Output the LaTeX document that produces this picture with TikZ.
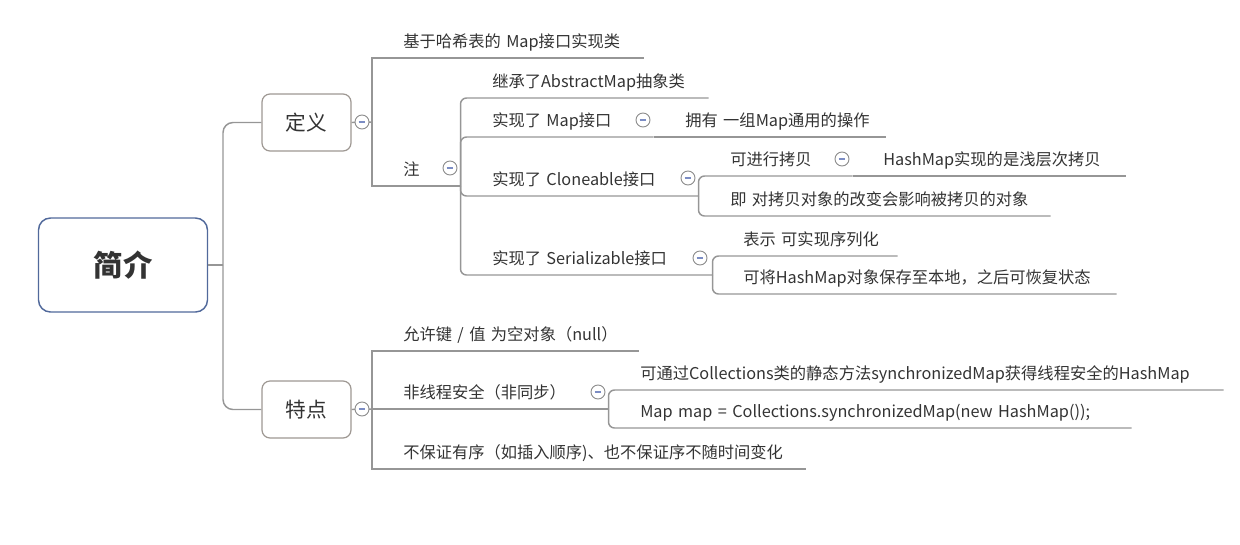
\documentclass[tikz,border=0pt]{standalone}
\usepackage{fontspec}
\setmainfont[WordSpace=0.6]{Noto Sans CJK SC}
\definecolor{ink}{HTML}{333333}
\definecolor{rootblue}{HTML}{51699B}
\definecolor{hubgray}{HTML}{9E9893}
\definecolor{linegray}{HTML}{969696}
\definecolor{foldgray}{HTML}{8C8C8C}
\definecolor{foldblue}{HTML}{7C8DC4}
\begin{document}
\begin{tikzpicture}[
    x=0.75pt, y=-0.75pt,
    root/.style={rectangle, draw=rootblue, line width=1.1pt, rounded corners=9pt, fill=white, minimum width=126.75pt, minimum height=70.5pt, text=ink, font=\fontsize{22pt}{26pt}\selectfont\bfseries},
    hub/.style={rectangle, draw=hubgray, line width=0.9pt, rounded corners=6pt, fill=white, minimum width=66.75pt, minimum height=42.75pt, text=ink, font=\fontsize{15.5pt}{18pt}\selectfont},
    topic/.style={anchor=south west, inner sep=0pt, text height=11pt, text depth=7.7pt, align=left, text=ink, font=\fontsize{12.2pt}{14pt}\selectfont},
    fold/.style={circle, draw=foldgray, fill=white, line width=0.7pt, minimum size=10.5pt, inner sep=0pt,
        path picture={\draw[foldblue, line width=1.1pt] ([xshift=-2.6pt]path picture bounding box.center) -- ([xshift=2.6pt]path picture bounding box.center);}},
    link/.style={draw=linegray, line width=1.1pt},
    elbow/.style={link, rounded corners=4.5pt}
]
\useasboundingbox (0,0) rectangle (1240,544);

% Root and main branches
\node[root] (intro) at (123,265) {简介};
\node[hub] (def) at (306.5,122.5) {定义};
\node[hub] (feat) at (306.5,409.5) {特点};
\coordinate (rootfork) at (223,265);
\coordinate (deffork) at (372,122);
\coordinate (featfork) at (372,409);

% Definition
\node[topic, text width=180pt] (base) at (403,58) {基于哈希表的 Map接口实现类};
\node[topic, text width=42.75pt] (note) at (403,186) {注};
\node[topic, text width=162pt] (inherit) at (492,98) {继承了AbstractMap抽象类};
\node[topic, text width=120.75pt] (mapif) at (492,137) {实现了 Map接口};
\node[topic, text width=150pt] (ops) at (685,137) {拥有 一组Map通用的操作};
\node[topic, text width=154.5pt] (clone) at (492,196) {实现了 Cloneable接口};
\node[topic, text width=91.5pt] (copy) at (730,176) {可进行拷贝};
\node[topic, text width=181.5pt] (shallow) at (883,176) {HashMap实现的是浅层次拷贝};
\node[topic, text width=240pt] (effect) at (730,216) {即 对拷贝对象的改变会影响被拷贝的对象};
\node[topic, text width=165pt] (serial) at (492,275) {实现了 Serializable接口};
\node[topic, text width=115.5pt] (meaning) at (743,256) {表示 可实现序列化};
\node[topic, text width=279.75pt] (store) at (743,294) {可将HashMap对象保存至本地，之后可恢复状态};

% Features
\node[topic, text width=176.25pt] (nullkey) at (403,351) {允许键 / 值 为空对象（null）};
\node[topic, text width=153.75pt] (unsafe) at (403,409) {非线程安全（非同步）};
\node[topic, text width=437.25pt] (sync) at (640,390) {可通过Collections类的静态方法synchronizedMap获得线程安全的HashMap};
\node[topic, text width=368.25pt] (code) at (640,428) {Map map = Collections.synchronizedMap(new HashMap());};
\node[topic, text width=301.5pt] (order) at (403,469) {不保证有序（如插入顺序)、也不保证序不随时间变化};

% Connections
\draw[link] (intro.east) -- (rootfork);
\draw[link, rounded corners=7.5pt] (rootfork) |- (def.west);
\draw[link, rounded corners=7.5pt] (rootfork) |- (feat.west);

\draw[link] (def.east) -- (deffork);
\draw[link] (deffork) |- (base.south east);
\draw[link] (deffork) |- (note.south east);
\draw[elbow] (note.south east) |- (inherit.south east);
\draw[elbow] (note.south east) |- (mapif.south east);
\draw[elbow] (note.south east) |- (clone.south east);
\draw[elbow] (note.south east) |- (serial.south east);
\draw[link] (mapif.south east) -- (ops.south east);
\draw[elbow] (clone.south east) |- (copy.south east);
\draw[elbow] (clone.south east) |- (effect.south east);
\draw[link] (copy.south east) -- (shallow.south east);
\draw[elbow] (serial.south east) |- (meaning.south east);
\draw[elbow] (serial.south east) |- (store.south east);

\draw[link] (feat.east) -- (featfork);
\draw[link] (featfork) |- (nullkey.south east);
\draw[link] (featfork) |- (unsafe.south east);
\draw[link] (featfork) |- (order.south east);
\draw[elbow] (unsafe.south east) |- (sync.south east);
\draw[elbow] (unsafe.south east) |- (code.south east);

% Fold markers
\node[fold] (deffold) at (362,122) {};
\node[fold] (featfold) at (362,409) {};
\node[fold] (notefold) at (450,168) {};
\node[fold] (mapfold) at (643,120) {};
\node[fold] (clonefold) at (688,178) {};
\node[fold] (copyfold) at (842,159) {};
\node[fold] (serialfold) at (700,258) {};
\node[fold] (unsafefold) at (598,392) {};

\end{tikzpicture}
\end{document}
